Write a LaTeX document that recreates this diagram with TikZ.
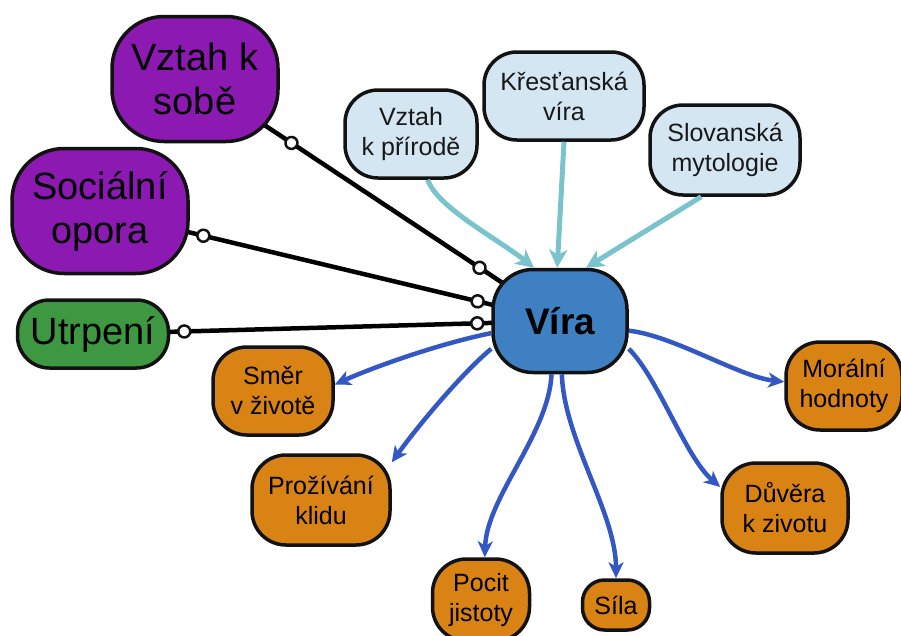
\documentclass[tikz,border=0pt]{standalone}
\usepackage{fontspec}
\setmainfont{Liberation Sans}
\usetikzlibrary{arrows.meta,decorations.markings,backgrounds}

\definecolor{purplebox}{RGB}{140,25,178}
\definecolor{greenbox}{RGB}{62,152,66}
\definecolor{lightbox}{RGB}{213,230,243}
\definecolor{corebox}{RGB}{62,128,193}
\definecolor{orangebox}{RGB}{217,131,20}
\definecolor{tealline}{RGB}{122,195,204}
\definecolor{blueline}{RGB}{51,88,196}
\definecolor{edgeink}{RGB}{18,18,18}

\newcommand{\fntbig}{\fontsize{38}{44}\selectfont}
\newcommand{\fntsmall}{\fontsize{25}{30}\selectfont}
\newcommand{\fntcore}{\fontsize{37}{40}\selectfont\bfseries}

\begin{document}
\begin{tikzpicture}[x=1pt,y=-1pt,
  box/.style={draw=edgeink, line width=3.5pt, rounded corners=#1, inner sep=0pt,
    align=center, text=black},
  box/.default=32pt,
  bigbox/.style={box=52pt, fill=purplebox, font=\fntbig},
  sourcebox/.style={box=33pt, fill=lightbox, font=\fntsmall, text=black!90},
  effectbox/.style={box=34pt, fill=orangebox, font=\fntsmall},
  ring/.style={draw=edgeink, line width=2.5pt, fill=white},
  linkline/.style={draw=black, line width=4.5pt},
  linkrings/.style={draw=none, postaction={decorate},
    decoration={markings,
      mark=at position 14pt with {\draw[ring] (0,0) circle (6pt);},
      mark=at position -14pt with {\draw[ring] (0,0) circle (6pt);}}},
  feed/.style={draw=tealline, line width=5pt,
    -{Stealth[length=18pt,width=18pt,inset=5pt]}},
  flow/.style={draw=blueline, line width=4.5pt,
    -{Stealth[length=16pt,width=15pt,inset=4.5pt]}}
]
\useasboundingbox (0,0) rectangle (901,635);

% left-hand factors
\node[bigbox, minimum width=166pt, minimum height=125pt] (sobe) at (195,79) {Vztah k\\sobě};
\node[bigbox, minimum width=176pt, minimum height=125pt] (opora) at (100,211) {Sociální\\opora};
\node[box=32pt, fill=greenbox, font=\fntbig, minimum width=151pt, minimum height=68pt] (utrpeni) at (93,334) {Utrpení};

% sources
\node[sourcebox, minimum width=132pt, minimum height=88pt] (priroda) at (411,134) {Vztah\\k přírodě};
\node[sourcebox, minimum width=160pt, minimum height=88pt] (krest) at (564,96) {Křesťanská\\víra};
\node[sourcebox, minimum width=150pt, minimum height=90pt] (slov) at (725,150) {Slovanská\\mytologie};

% centre
\node[box=40pt, fill=corebox, font=\fntcore, minimum width=134pt, minimum height=103pt] (vira) at (560,321) {Víra};

% effects
\node[effectbox, minimum width=120pt, minimum height=88pt] (smer) at (273,391) {Směr\\v životě};
\node[effectbox, minimum width=138pt, minimum height=90pt] (prozivani) at (321,500) {Prožívání\\klidu};
\node[effectbox, minimum width=97pt, minimum height=82pt] (pocit) at (481,600) {Pocit\\jistoty};
\node[box=22pt, fill=orangebox, font=\fntsmall, minimum width=67pt, minimum height=50pt] (sila) at (616,605) {Síla};
\node[effectbox, minimum width=126pt, minimum height=90pt] (duvera) at (785,508) {Důvěra\\k zivotu};
\node[effectbox, minimum width=116pt, minimum height=88pt] (moralni) at (844,386) {Morální\\hodnoty};

% links with ring ends: the line runs behind the boxes, the rings sit just outside them
\begin{pgfonlayer}{background}
  \draw[linkline] (sobe.center) -- (vira.center);
  \draw[linkline] (opora.center) -- (vira.center);
  \draw[linkline] (utrpeni.center) -- (vira.center);
\end{pgfonlayer}
\path[linkrings] (sobe) -- (vira);
\path[linkrings] (opora) -- (vira);
\path[linkrings] (utrpeni) -- (vira);

% sources feeding in
\draw[feed] (priroda.-70) .. controls +(10,28) and +(-38,-30) .. (vira.116);
\draw[feed] (krest.south) -- (vira.93);
\draw[feed] (slov.-117) -- (vira.64);

% outgoing effects
\draw[flow] (vira.190) .. controls +(-50,10) and +(40,-18) .. (smer.6);
\draw[flow] (vira.202) .. controls +(-30,25) and +(25,-35) .. (prozivani.28);
\draw[flow] (vira.261) .. controls +(-3,60) and +(2,-60) .. (pocit.85);
\draw[flow] (vira.272) .. controls +(2,65) and +(0,-65) .. (sila.north);
\draw[flow] (vira.-8) .. controls +(45,5) and +(-45,-5) .. (moralni.176);
\draw[flow] (vira.-22) .. controls +(30,30) and +(-35,-30) .. (duvera.162);
\end{tikzpicture}
\end{document}
